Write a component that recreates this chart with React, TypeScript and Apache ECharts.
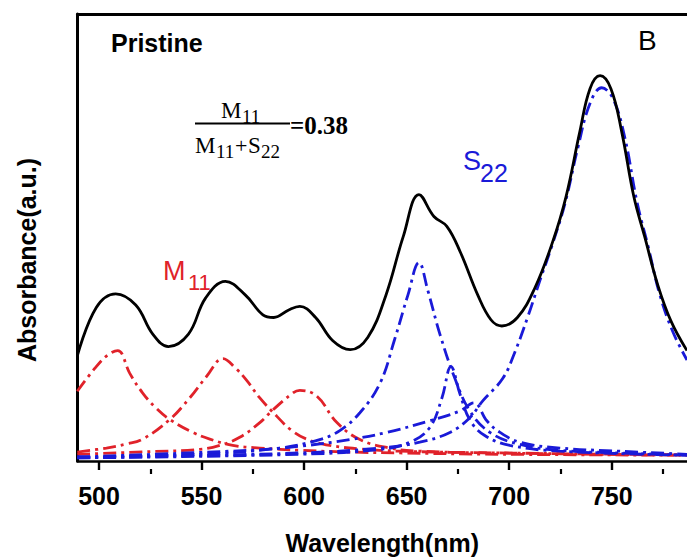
import React, { useEffect, useRef } from "react";
import * as echarts from "echarts";

// ---- data ----
const X_MIN = 489.5;
const X_MAX = 786.7;
const majorTicks = [500, 550, 600, 650, 700, 750];
const minorTicks = [525, 575, 625, 675, 725, 775];

const totalAbs: [number, number][] = [
  [489.4, 23.5], [498.6, 34.3], [508.1, 37.4], [517.9, 34.9], [526.2, 28.4], [533.8, 25.6],
  [543.6, 28.4], [552.0, 36.5], [561.6, 40.2], [571.4, 37.1], [579.9, 32.7], [585.2, 32.1],
  [592.5, 33.8], [597.9, 34.6], [605.6, 32.1], [614.0, 26.9], [622.5, 24.9], [631.1, 27.7],
  [639.9, 37.1], [648.4, 50.3], [656.0, 59.6], [663.3, 54.7], [669.6, 52.5], [676.2, 46.7],
  [684.7, 37.1], [691.1, 31.6], [696.4, 30.2], [704.0, 32.1], [712.5, 38.7], [721.1, 48.9],
  [727.7, 59.1], [734.5, 73.8], [739.4, 83.3], [744.3, 86.2], [749.6, 83.3], [754.8, 73.8],
  [760.8, 59.1], [766.0, 50.3], [772.5, 39.3], [778.9, 31.3], [786.7, 24.7],
];

const m11Peak1: [number, number][] = [
  [489.4, 15.6], [497.9, 20.7], [504.2, 23.7], [509.1, 24.7], [515.0, 19.6], [521.3, 15.2],
  [527.7, 11.9], [534.5, 9.3], [545.7, 6.4], [554.0, 4.9], [565.2, 3.5], [578.4, 2.9],
  [597.9, 2.4], [622.3, 2.0], [646.7, 1.8], [695.5, 1.5], [786.7, 1.3],
];

const m11Peak2: [number, number][] = [
  [489.4, 2.0], [503.6, 2.9], [513.4, 3.8], [521.3, 4.9], [534.5, 9.3], [544.2, 14.1],
  [552.4, 18.9], [560.5, 22.9], [566.7, 20.7], [571.9, 18.1], [578.4, 14.1], [586.5, 10.1],
  [593.5, 7.0], [601.2, 4.9], [612.5, 3.5], [627.2, 2.7], [646.7, 2.2], [695.5, 1.8],
  [786.7, 1.4],
];

const m11Peak3: [number, number][] = [
  [489.4, 1.5], [524.7, 2.1], [549.1, 2.6], [558.9, 3.5], [568.6, 5.3], [578.4, 8.6],
  [584.7, 11.4], [594.5, 15.2], [597.9, 15.8], [606.2, 14.5], [616.0, 8.6], [627.2, 4.8],
  [641.8, 2.9], [656.4, 2.2], [695.5, 1.8], [786.7, 1.3],
];

const s22Peak1: [number, number][] = [
  [489.4, 0.9], [549.1, 1.5], [588.1, 2.9], [607.6, 4.8], [617.4, 6.8], [627.2, 10.8],
  [637.0, 17.4], [644.2, 27.3], [650.6, 37.1], [656.0, 44.4], [660.3, 38.2], [666.2, 28.4],
  [673.5, 18.5], [680.8, 11.2], [690.6, 6.4], [705.2, 3.7], [724.7, 2.4], [754.0, 1.8],
  [786.7, 1.3],
];

const s22Peak2: [number, number][] = [
  [489.4, 0.7], [597.9, 1.5], [637.0, 2.6], [651.6, 4.2], [661.3, 7.5], [667.2, 14.1],
  [671.6, 21.1], [676.0, 15.0], [680.8, 9.2], [688.1, 5.7], [700.3, 3.5], [724.7, 2.2],
  [786.7, 1.3],
];

const s22Peak3: [number, number][] = [
  [489.4, 0.9], [573.5, 2.4], [597.9, 3.3], [622.3, 4.8], [640.3, 6.4], [661.3, 9.0],
  [676.0, 11.2], [682.8, 13.0], [689.1, 9.0], [695.5, 6.4], [705.2, 4.2], [724.7, 2.9],
  [754.0, 2.2], [786.7, 1.5],
];

const s22Peak4: [number, number][] = [
  [489.4, 0.7], [597.9, 1.8], [636.9, 2.9], [656.4, 4.2], [671.1, 6.4], [680.8, 9.7],
  [687.2, 13.5], [696.9, 18.5], [702.8, 24.4], [709.1, 32.3], [715.0, 40.4], [720.8, 48.1],
  [727.2, 57.6], [733.5, 70.1], [739.4, 80.0], [745.1, 83.5], [750.6, 81.1], [756.4, 72.3],
  [762.3, 58.0], [767.7, 48.1], [773.5, 37.1], [779.9, 28.8], [786.7, 22.6],
];

const RED = "#e0222a";
const BLUE = "#1a1ad8";
const SANS = '"Liberation Sans", Arial, sans-serif';
const SERIF = '"Liberation Serif", "DejaVu Serif", serif';
const DASH_DOT = [13, 5, 3, 5];

function comp(name: string, data: [number, number][], color: string) {
  return {
    name,
    type: "line",
    data,
    xAxisIndex: 0,
    yAxisIndex: 0,
    showSymbol: false,
    smooth: 0.4,
    silent: true,
    z: 2,
    lineStyle: { color, width: 2.8, type: DASH_DOT, cap: "butt" },
  };
}

function txt(text: string, x: number, y: number, font: string, fill: string, align = "left") {
  return {
    type: "text",
    x,
    y,
    silent: true,
    style: { text, font, fill, align, verticalAlign: "middle" },
  };
}

export default function App() {
  const ref = useRef<HTMLDivElement>(null);

  useEffect(() => {
    if (!ref.current) return;
    const chart = echarts.init(ref.current, null, { renderer: "svg" });
    const gridBox = { left: 77.5, right: 0, top: 14, bottom: 91, containLabel: false };
    chart.setOption({
      animation: false,
      backgroundColor: "#ffffff",
      grid: [gridBox, { ...gridBox }],
      xAxis: [
        {
          type: "value",
          gridIndex: 0,
          position: "bottom",
          min: X_MIN,
          max: X_MAX,
          axisLine: { show: true, onZero: false, lineStyle: { color: "#000", width: 2.6 } },
          axisTick: { show: true, inside: false, length: 9, customValues: majorTicks, lineStyle: { color: "#000", width: 2.4 } },
          axisLabel: {
            customValues: majorTicks,
            margin: 22,
            color: "#000",
            fontSize: 25,
            fontWeight: "bold",
            fontFamily: SANS,
          },
          splitLine: { show: false },
          name: "Wavelength(nm)",
          nameLocation: "middle",
          nameGap: 69,
          nameTextStyle: { color: "#000", fontSize: 25, fontWeight: "bold", fontFamily: SANS },
        },
        {
          type: "value",
          gridIndex: 1,
          position: "bottom",
          min: X_MIN,
          max: X_MAX,
          axisLine: { show: false },
          axisTick: { show: true, inside: false, length: 5, customValues: minorTicks, lineStyle: { color: "#000", width: 2.2 } },
          axisLabel: { show: false },
          splitLine: { show: false },
        },
        {
          type: "value",
          gridIndex: 1,
          position: "top",
          min: X_MIN,
          max: X_MAX,
          axisLine: { show: true, onZero: false, lineStyle: { color: "#000", width: 3 } },
          axisTick: { show: false },
          axisLabel: { show: false },
          splitLine: { show: false },
        },
      ],
      yAxis: [
        {
          type: "value",
          gridIndex: 0,
          min: 0,
          max: 100,
          axisLine: { show: true, onZero: false, lineStyle: { color: "#000", width: 3 } },
          axisTick: { show: false },
          axisLabel: { show: false },
          splitLine: { show: false },
        },
        {
          type: "value",
          gridIndex: 1,
          min: 0,
          max: 100,
          show: false,
        },
      ],
      series: [
        comp("M11 peak 1", m11Peak1, RED),
        comp("M11 peak 2", m11Peak2, RED),
        comp("M11 peak 3", m11Peak3, RED),
        comp("S22 peak 1", s22Peak1, BLUE),
        comp("S22 peak 2", s22Peak2, BLUE),
        comp("S22 peak 3", s22Peak3, BLUE),
        comp("S22 peak 4", s22Peak4, BLUE),
        {
          name: "Total",
          type: "line",
          data: totalAbs,
          xAxisIndex: 0,
          yAxisIndex: 0,
          showSymbol: false,
          smooth: 0.4,
          silent: true,
          z: 3,
          lineStyle: { color: "#000", width: 2.8 },
        },
      ],
      graphic: [
        {
          type: "text",
          x: 27,
          y: 260,
          rotation: Math.PI / 2,
          silent: true,
          style: {
            text: "Absorbance(a.u.)",
            font: `bold 25px ${SANS}`,
            fill: "#000",
            align: "center",
            verticalAlign: "middle",
          },
        },
        txt("Pristine", 111, 43, `bold 25px ${SANS}`, "#000"),
        txt("B", 638, 40, `28px ${SANS}`, "#000"),
        // M11 label
        txt("M", 163, 271, `27px ${SANS}`, RED),
        txt("11", 188, 282, `22px ${SANS}`, RED),
        // S22 label
        txt("S", 463, 161, `27px ${SANS}`, BLUE),
        txt("22", 480, 173, `25px ${SANS}`, BLUE),
        // fraction formula
        txt("M", 221, 110, `23px ${SERIF}`, "#000"),
        txt("11", 242, 116, `19px ${SERIF}`, "#000"),
        {
          type: "line",
          silent: true,
          shape: { x1: 195, y1: 123.5, x2: 290, y2: 123.5 },
          style: { stroke: "#000", lineWidth: 2 },
        },
        txt("=0.38", 290, 125, `bold 25px ${SERIF}`, "#000"),
        txt("M", 195, 145.5, `23px ${SERIF}`, "#000"),
        txt("11", 216, 151.5, `19px ${SERIF}`, "#000"),
        txt("+", 235, 145.5, `22px ${SERIF}`, "#000"),
        txt("S", 248, 145.5, `23px ${SERIF}`, "#000"),
        txt("22", 261, 151.5, `19px ${SERIF}`, "#000"),
      ],
    });
    return () => chart.dispose();
  }, []);

  return (
    <div
      ref={ref}
      style={{ position: "absolute", left: 0, top: 0, width: 687, height: 560, background: "#fff" }}
    />
  );
}
